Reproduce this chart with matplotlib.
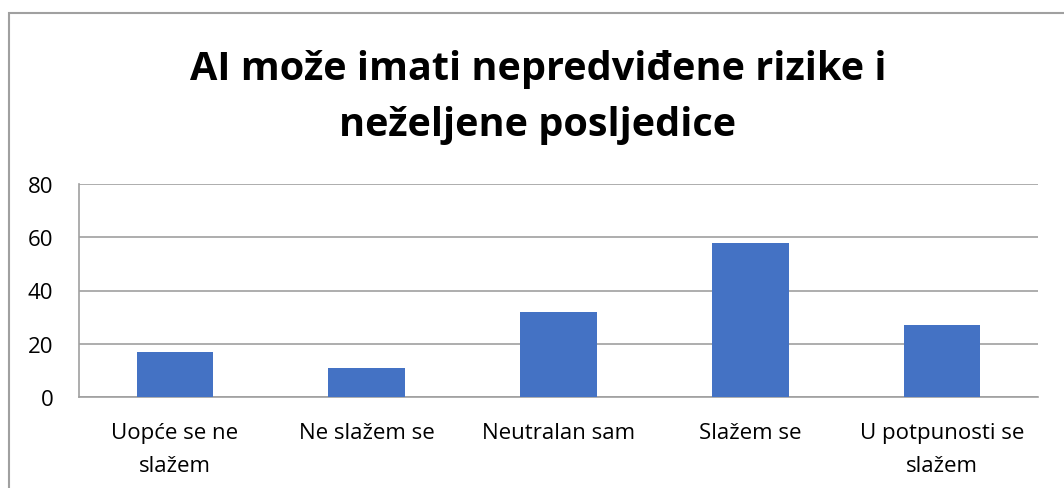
import matplotlib
matplotlib.use("Agg")
import matplotlib.pyplot as plt
from matplotlib.patches import Rectangle

categories = ["Uopće se ne\nslažem", "Ne slažem se", "Neutralan sam", "Slažem se", "U potpunosti se\nslažem"]
values = [17, 11, 32, 58, 27]
yticks = [0, 20, 40, 60, 80]
title_lines = ["AI može imati nepredviđene rizike i", "neželjene posljedice"]

plt.rcParams["font.family"] = ["Open Sans", "DejaVu Sans"]

W, H = 1064, 489
fig = plt.figure(figsize=(W / 100, H / 100), dpi=100)

# Excel-style outer chart border (right/bottom edges fall outside the crop)
fig.patches.append(Rectangle((9 / W, -0.1), 1.2, 1 - 14 / H + 0.1, transform=fig.transFigure,
                             fill=False, edgecolor="#a0a0a0", linewidth=1.5))

ax = fig.add_axes([79 / W, 1 - 398 / H, (1038 - 79) / W, (398 - 185) / H])
x = list(range(len(categories)))
ax.bar(x, values, width=0.4, color="#4472C4", zorder=3)
ax.set_xlim(-0.5, len(categories) - 0.5)
ax.set_ylim(0, 80)
ax.set_yticks(yticks)
ax.set_xticks(x)
ax.set_xticklabels(categories, fontsize=16, linespacing=1.77)
ax.tick_params(axis="y", labelsize=16, length=0, pad=18.5)
ax.tick_params(axis="x", length=0, pad=18)
ax.grid(axis="y", color="#a0a0a0", linewidth=1.2, zorder=0)
for side in ("top", "right"):
    ax.spines[side].set_visible(False)
for side in ("left", "bottom"):
    ax.spines[side].set_color("#a0a0a0")
    ax.spines[side].set_linewidth(1.2)

# title, one text per line so each baseline sits where the reference has it
for line, baseline in zip(title_lines, (80, 136)):
    fig.text(538 / W, 1 - baseline / H, line, ha="center", va="baseline",
             fontsize=28.5, fontweight="bold")

fig.savefig("out.png", dpi=100)
